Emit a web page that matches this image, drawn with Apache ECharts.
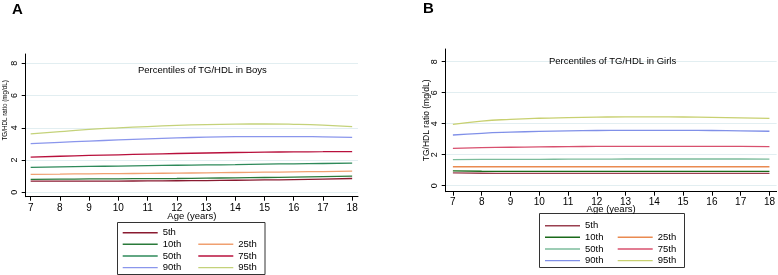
<!DOCTYPE html>
<html><head><meta charset="utf-8">
<script src="https://cdn.jsdelivr.net/npm/echarts@6/dist/echarts.min.js"></script>
<style>html,body{margin:0;padding:0;background:#fff}#c{width:778px;height:275px}</style>
</head><body><div id="c"></div>
<script>
const ages = [7, 8, 9, 10, 11, 12, 13, 14, 15, 16, 17, 18];
const percentiles = ['5th', '10th', '25th', '50th', '75th', '90th', '95th'];
const xTicks = [7, 8, 9, 10, 11, 12, 13, 14, 15, 16, 17, 18];
const yTicks = [0, 2, 4, 6, 8];

// Boys (panel A)
const boys5  = [0.69, 0.69, 0.70, 0.70, 0.71, 0.72, 0.73, 0.75, 0.77, 0.79, 0.82, 0.86];
const boys10 = [0.81, 0.82, 0.83, 0.84, 0.85, 0.86, 0.88, 0.90, 0.92, 0.94, 0.97, 1.00];
const boys25 = [1.12, 1.13, 1.15, 1.16, 1.18, 1.19, 1.21, 1.23, 1.25, 1.27, 1.29, 1.31];
const boys50 = [1.55, 1.58, 1.61, 1.63, 1.66, 1.68, 1.70, 1.72, 1.75, 1.77, 1.79, 1.81];
const boys75 = [2.18, 2.24, 2.29, 2.33, 2.37, 2.41, 2.44, 2.47, 2.49, 2.51, 2.52, 2.53];
const boys90 = [3.02, 3.10, 3.18, 3.25, 3.32, 3.38, 3.42, 3.45, 3.46, 3.46, 3.44, 3.41];
const boys95 = [3.63, 3.77, 3.90, 4.00, 4.08, 4.15, 4.20, 4.23, 4.24, 4.22, 4.17, 4.08];

// Girls (panel B)
const girls5  = [0.82, 0.80, 0.79, 0.79, 0.79, 0.79, 0.79, 0.79, 0.79, 0.79, 0.79, 0.79];
const girls10 = [0.96, 0.93, 0.92, 0.92, 0.92, 0.92, 0.92, 0.92, 0.92, 0.92, 0.92, 0.92];
const girls25 = [1.22, 1.22, 1.22, 1.22, 1.22, 1.22, 1.22, 1.22, 1.22, 1.22, 1.22, 1.22];
const girls50 = [1.68, 1.69, 1.70, 1.70, 1.71, 1.71, 1.72, 1.72, 1.72, 1.72, 1.72, 1.71];
const girls75 = [2.40, 2.45, 2.48, 2.50, 2.52, 2.53, 2.54, 2.54, 2.54, 2.53, 2.53, 2.52];
const girls90 = [3.27, 3.38, 3.45, 3.50, 3.54, 3.56, 3.57, 3.57, 3.57, 3.56, 3.54, 3.51];
const girls95 = [3.96, 4.17, 4.28, 4.35, 4.39, 4.42, 4.44, 4.44, 4.43, 4.41, 4.38, 4.34];

const boysSets = [boys5, boys10, boys25, boys50, boys75, boys90, boys95];
const girlsSets = [girls5, girls10, girls25, girls50, girls75, girls90, girls95];
const boysColors = ['#8a1a30', '#2a7a3a', '#f0a070', '#2e8a5a', '#b8103c', '#8a96ec', '#c4d27a'];
const girlsColors = ['#9a4050', '#1a6a1a', '#ea8a50', '#7cbc9c', '#d8506e', '#8090e8', '#c8d070'];

const FONT = 'Liberation Sans, Arial, sans-serif';

function mkSeries(sets, colors, idx, prefix) {
  return sets.map((vals, k) => ({
    name: prefix + percentiles[k],
    type: 'line',
    xAxisIndex: idx, yAxisIndex: idx,
    smooth: true,
    symbol: 'none',
    lineStyle: { width: 1.3, color: colors[k] },
    itemStyle: { color: colors[k] },
    data: ages.map((a, i) => [a, vals[i]]),
    z: 3
  }));
}

function mkX(idx, min, max, margin, nameGap) {
  return {
    type: 'value', gridIndex: idx, min: min, max: max,
    axisLine: { show: true, onZero: false, lineStyle: { color: '#000', width: 1 } },
    axisTick: { show: true, length: 4, customValues: xTicks, lineStyle: { color: '#000' } },
    axisLabel: { customValues: xTicks, fontSize: 10, margin: margin, color: '#000', fontFamily: FONT },
    splitLine: { show: false },
    name: 'Age (years)', nameLocation: 'middle', nameGap: nameGap, nameMoveOverlap: false,
    nameTextStyle: { fontSize: 9.5, color: '#000', fontFamily: FONT }
  };
}

function mkY(idx, min, max, nameGap, nameSize, namePad) {
  return {
    type: 'value', gridIndex: idx, min: min, max: max,
    axisLine: { show: true, onZero: false, lineStyle: { color: '#000', width: 1 } },
    axisTick: { show: true, length: 4, customValues: yTicks, lineStyle: { color: '#000' } },
    axisLabel: { customValues: yTicks, rotate: 90, fontSize: 9, margin: 7, color: '#000', fontFamily: FONT },
    splitLine: { show: true, lineStyle: { color: '#e2eef1', width: 1 } },
    name: 'TG/HDL ratio (mg/dL)', nameLocation: 'middle', nameGap: nameGap, nameMoveOverlap: false,
    nameTextStyle: { fontSize: nameSize, color: '#000', fontFamily: FONT, padding: namePad }
  };
}

function mkLegend(names, left, top, prefix) {
  return {
    orient: 'vertical', left: left, top: top, padding: 0,
    icon: 'rect',
    itemWidth: 35, itemHeight: 1.4, itemGap: 1.67,
    data: names.map(n => prefix + n),
    formatter: name => name.replace(prefix, ''),
    textStyle: { fontSize: 9.5, color: '#000', fontFamily: FONT, lineHeight: 10 },
    selectedMode: false
  };
}

const chart = echarts.init(document.getElementById('c'), null, { renderer: 'canvas' });
chart.setOption({
  animation: false,
  backgroundColor: '#fff',
  title: [
    { text: 'A', left: 12, top: 2, padding: 0, textStyle: { fontSize: 15, fontWeight: 'bold', color: '#000', fontFamily: FONT } },
    { text: 'B', left: 423, top: 1, padding: 0, textStyle: { fontSize: 15, fontWeight: 'bold', color: '#000', fontFamily: FONT } },
    { text: 'Percentiles of TG/HDL in Boys', left: 138, top: 65, padding: 0, textStyle: { fontSize: 9.5, fontWeight: 'normal', color: '#000', fontFamily: FONT } },
    { text: 'Percentiles of TG/HDL in Girls', left: 549, top: 56, padding: 0, textStyle: { fontSize: 9.5, fontWeight: 'normal', color: '#000', fontFamily: FONT } }
  ],
  grid: [
    { left: 25.7, top: 54, width: 332.3, height: 142.7 },
    { left: 445.7, top: 49, width: 332.4, height: 142.7 }
  ],
  xAxis: [mkX(0, 6.83, 18.2, 6.5, 14.5), mkX(1, 6.75, 18.25, 6, 12.5)],
  yAxis: [mkY(0, -0.27, 8.58, 17.7, 6.3, [0, 0, 0, 30]), mkY(1, -0.39, 8.82, 14.7, 8.5, 0)],
  legend: [
    mkLegend(['5th'], 122.7, 227.7, 'A '),
    mkLegend(['10th', '50th', '90th'], 122.7, 239.3, 'A '),
    mkLegend(['25th', '75th', '95th'], 198.3, 239.3, 'A '),
    mkLegend(['5th'], 545, 220.7, 'B '),
    mkLegend(['10th', '50th', '90th'], 545, 232.3, 'B '),
    mkLegend(['25th', '75th', '95th'], 617.7, 232.3, 'B ')
  ],
  graphic: [
    { type: 'rect', shape: { x: 117.5, y: 222.5, width: 147.5, height: 52 }, style: { fill: 'none', stroke: '#333', lineWidth: 1 } },
    { type: 'rect', shape: { x: 539.5, y: 213.5, width: 145, height: 54 }, style: { fill: 'none', stroke: '#333', lineWidth: 1 } }
  ],
  series: [].concat(mkSeries(boysSets, boysColors, 0, 'A '), mkSeries(girlsSets, girlsColors, 1, 'B '))
});
</script>
</body></html>
